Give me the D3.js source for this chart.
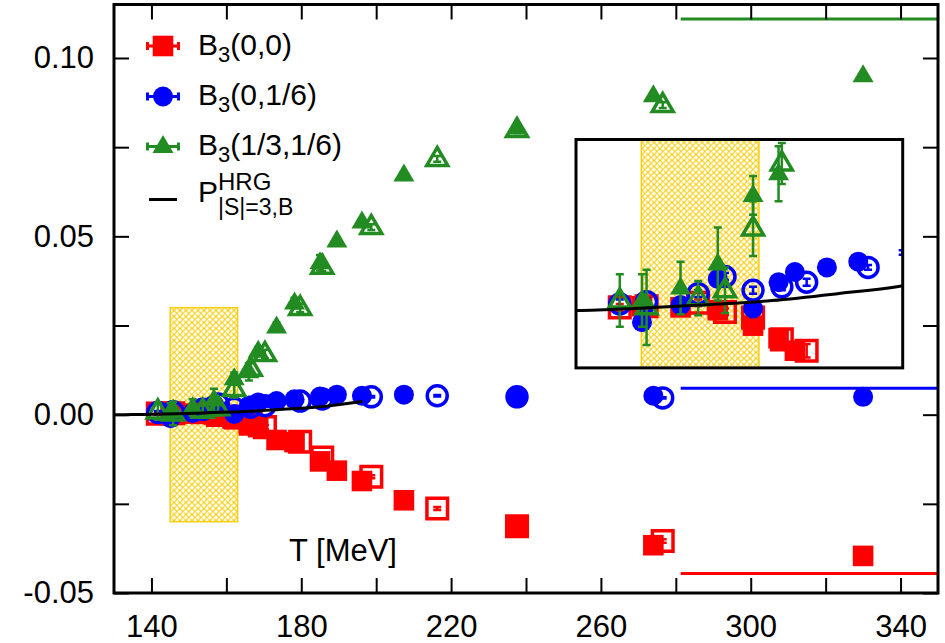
<!DOCTYPE html>
<html>
<head>
<meta charset="utf-8">
<script src="https://cdn.jsdelivr.net/npm/d3@7"></script>
<style>
  body { margin: 0; background: #fff; }
  svg { display: block; }
  text { font-family: "Liberation Sans", Arial, sans-serif; fill: #000; }
</style>
</head>
<body>
<div id="chart"></div>
<script>
// temperatures (MeV) of the filled and the open data sets
var T_filled = [145.1, 151.0, 156.7, 162.1, 166.0, 168.5, 173.4, 178.2, 185.0, 189.5, 196.2, 207.4, 237.6, 274.0, 330.0];
var T_open   = [141.7, 145.8, 153.7, 157.8, 162.1, 166.5, 170.3, 179.7, 185.6, 198.7, 216.3, 237.6, 276.5];

// B3(0,0)
var red_filled = [0.0004, 0.0003, 0.00005, -0.0013, -0.0024, -0.0035, -0.0071, -0.0077, -0.0131, -0.0157, -0.0186, -0.0240, -0.0315, -0.0366, -0.0396];
var red_open   = [0.0003, 0.0004, 0.0007, -0.0001, -0.0006, -0.0025, -0.0035, -0.0076, -0.0120, -0.0174, -0.0263, -0.0313, -0.0354];
var red_err_filled = [0.0003, 0.0002, 0.0002, 0.0003, 0.0003, 0.0003, 0.0003, 0.0003, 0.0004, 0.0004, 0.0004, 0.0004, 0.0005, 0.0005, 0.0005];
var red_err_open   = [0.0003, 0.0003, 0.0003, 0.0003, 0.0003, 0.0003, 0.0006, 0.0004, 0.0004, 0.0004, 0.0004, 0.0005, 0.0005];

// B3(0,1/6)
var blue_filled = [-0.0010, 0.0005, 0.0028, 0.0002, 0.0025, 0.0034, 0.0038, 0.0043, 0.0051, 0.0056, 0.0053, 0.0056, 0.0050, 0.0053, 0.0050];
var blue_open   = [0.0006, 0.0008, 0.0015, 0.0030, 0.0018, 0.0021, 0.0025, 0.0038, 0.0044, 0.0050, 0.0053, 0.0050, 0.0047];
var blue_err_filled = [0.0004, 0.0003, 0.0003, 0.0003, 0.0003, 0.0003, 0.0003, 0.0002, 0.0002, 0.0002, 0.0002, 0.0002, 0.0002, 0.0002, 0.0002];
var blue_err_open   = [0.0004, 0.0003, 0.0003, 0.0003, 0.0003, 0.0003, 0.0003, 0.0002, 0.0002, 0.0002, 0.0002, 0.0002, 0.0002];

// B3(1/3,1/6)
var green_filled = [0.0009, 0.0020, 0.0041, 0.0101, 0.0120, 0.0178, 0.0246, 0.0313, 0.0426, 0.0487, 0.0540, 0.0672, 0.0804, 0.0894, 0.0950];
var green_open   = [0.0009, 0.0003, 0.0011, 0.0018, 0.0072, 0.0129, 0.0170, 0.0299, 0.0415, 0.0526, 0.0717, 0.0798, 0.0868];
var green_err_filled = [0.0023, 0.0023, 0.0032, 0.0017, 0.0024, 0.0012, 0.0012, 0.0015, 0.0022, 0.0010, 0.0008, 0.0008, 0.0008, 0.0008, 0.0008];
var green_err_open   = [0.0023, 0.0033, 0.0015, 0.0020, 0.0024, 0.0018, 0.0012, 0.0012, 0.0012, 0.0008, 0.0008, 0.0008, 0.0008];

// HRG curve
var hrg_T   = [130, 135, 144, 154, 165, 175, 185, 196.3];
var hrg_val = [0.0, 0.00002, 0.0002, 0.0005, 0.0009, 0.0015, 0.0022, 0.0037];

// high temperature limits
var lim_T = [281.3, 350];
var lim_red = -0.0445, lim_blue = 0.0074, lim_green = 0.1109;

// transition band
var band_T = [145, 163];
var band_val = [-0.03, 0.03];

// ticks
var xTicks = [140, 160, 180, 200, 220, 240, 260, 280, 300, 320, 340];
var xLabels = [140, 180, 220, 260, 300, 340];
var yTicks = [-0.05, -0.025, 0, 0.025, 0.05, 0.075, 0.1];
var yLabels = [-0.05, 0, 0.05, 0.1];

// inset window
var inset_T = [135, 185];
var inset_val = [-0.005, 0.015];

var series = [
  {color: "#ff0000", shape: "square",   f: red_filled,   o: red_open,   ef: red_err_filled,   eo: red_err_open},
  {color: "#0000ff", shape: "circle",   f: blue_filled,  o: blue_open,  ef: blue_err_filled,  eo: blue_err_open},
  {color: "#228b22", shape: "triangle", f: green_filled, o: green_open, ef: green_err_filled, eo: green_err_open}
];

var margin = {top: 4.5, right: 7, bottom: 50, left: 114},
    width = 945 - margin.left - margin.right,
    height = 643 - margin.top - margin.bottom;

var root = d3.select("#chart").append("svg")
    .attr("width", 945)
    .attr("height", 643);

var defs = root.append("defs");
var pat = defs.append("pattern")
    .attr("id", "hatch")
    .attr("width", 6).attr("height", 6)
    .attr("patternUnits", "userSpaceOnUse");
pat.append("rect").attr("width", 6).attr("height", 6).attr("fill", "#fff");
pat.append("path").attr("d", "M0,0L6,6M6,0L0,6M-1,5L1,7M5,-1L7,1")
    .attr("stroke", "#f7cd10").attr("stroke-width", 1.2);

defs.append("clipPath").attr("id", "clipMain")
  .append("rect").attr("width", width).attr("height", height);

var svg = root.append("g")
    .attr("transform", "translate(" + margin.left + "," + margin.top + ")");

var x = d3.scaleLinear().domain([130, 350]).range([0, width]);
var y = d3.scaleLinear().domain([-0.05, 0.115]).range([height, 0]);

function markerPath(shape) {
  if (shape === "square") return "M-10.3,-10.3H10.3V10.3H-10.3Z";
  if (shape === "circle") return "M-10,0A10,10 0 1,0 10,0A10,10 0 1,0 -10,0Z";
  return "M0,-11.5L10.5,6.5L-10.5,6.5Z";
}

// draw all points of the three series into a panel with scales xs / ys
// (points at or past the x range edge keep their error bar but lose the symbol)
function drawData(g, xs, ys) {
  var dom = xs.domain();
  series.forEach(function(s) {
    [[T_filled, s.f, s.ef, false], [T_open, s.o, s.eo, true]].forEach(function(set) {
      var pts = set[0].map(function(t, i) { return {t: t, v: set[1][i], e: set[2][i]}; });
      g.selectAll(null).data(pts).enter().append("path")
        .attr("d", function(d) {
          var X = xs(d.t), y0 = ys(d.v - d.e), y1 = ys(d.v + d.e);
          return "M" + X + "," + y0 + "V" + y1 +
                 "M" + (X - 4) + "," + y0 + "H" + (X + 4) +
                 "M" + (X - 4) + "," + y1 + "H" + (X + 4);
        })
        .attr("stroke", s.color).attr("stroke-width", 2.5).attr("fill", "none");
      g.selectAll(null).data(pts.filter(function(d) { return d.t > dom[0] && d.t < dom[1]; }))
        .enter().append("path")
        .attr("transform", function(d) { return "translate(" + xs(d.t) + "," + ys(d.v) + ")"; })
        .attr("d", markerPath(s.shape))
        .attr("fill", set[3] ? "none" : s.color)
        .attr("stroke", set[3] ? s.color : "none")
        .attr("stroke-width", 3.5);
    });
  });
}

function hrgLine(xs, ys) {
  return d3.line()
    .x(function(d) { return xs(d[0]); })
    .y(function(d) { return ys(d[1]); })
    .curve(d3.curveMonotoneX)(hrg_T.map(function(t, i) { return [t, hrg_val[i]]; }));
}

// main panel
var main = svg.append("g").attr("clip-path", "url(#clipMain)");

main.append("rect")
    .attr("x", x(band_T[0])).attr("width", x(band_T[1]) - x(band_T[0]))
    .attr("y", y(band_val[1])).attr("height", y(band_val[0]) - y(band_val[1]))
    .attr("fill", "url(#hatch)")
    .attr("stroke", "#f7cd10").attr("stroke-width", 1.5);

drawData(main, x, y);

main.append("path").attr("d", hrgLine(x, y))
    .attr("fill", "none").attr("stroke", "#000").attr("stroke-width", 3);

[[lim_red, "#ff0000"], [lim_blue, "#0000ff"], [lim_green, "#228b22"]].forEach(function(l) {
  main.append("line")
    .attr("x1", x(lim_T[0])).attr("x2", x(lim_T[1]))
    .attr("y1", y(l[0])).attr("y2", y(l[0]))
    .attr("stroke", l[1]).attr("stroke-width", 3);
});

// inset
var insetBox = {x: 462, y: 135, w: 326.7, h: 228.4};
var xi = d3.scaleLinear().domain(inset_T).range([insetBox.x, insetBox.x + insetBox.w]);
var yi = d3.scaleLinear().domain(inset_val).range([insetBox.y + insetBox.h, insetBox.y]);

var inset = svg.append("g");
inset.append("clipPath").attr("id", "clipInset")
  .append("rect").attr("x", insetBox.x).attr("y", insetBox.y)
  .attr("width", insetBox.w).attr("height", insetBox.h);
inset.append("rect")
    .attr("x", insetBox.x).attr("y", insetBox.y)
    .attr("width", insetBox.w).attr("height", insetBox.h)
    .attr("fill", "#fff");
var insetData = inset.append("g").attr("clip-path", "url(#clipInset)");

insetData.append("rect")
    .attr("x", xi(band_T[0])).attr("width", xi(band_T[1]) - xi(band_T[0]))
    .attr("y", insetBox.y).attr("height", insetBox.h)
    .attr("fill", "url(#hatch)")
    .attr("stroke", "#f7cd10").attr("stroke-width", 1.5);
drawData(insetData, xi, yi);
insetData.append("path").attr("d", hrgLine(xi, yi))
    .attr("fill", "none").attr("stroke", "#000").attr("stroke-width", 3);
inset.append("rect")
    .attr("x", insetBox.x).attr("y", insetBox.y)
    .attr("width", insetBox.w).attr("height", insetBox.h)
    .attr("fill", "none").attr("stroke", "#000").attr("stroke-width", 3);

// axes (ticks point inwards on all four sides)
function yFmt(d) {
  for (var i = 0; i < yLabels.length; i++) {
    if (Math.abs(yLabels[i] - d) < 1e-9) return (d < -1e-9 ? "-" : "") + Math.abs(d).toFixed(2);
  }
  return "";
}
var axB = svg.append("g").attr("transform", "translate(0," + height + ")")
    .call(d3.axisBottom(x).tickValues(xTicks).tickSize(-15).tickPadding(22)
      .tickFormat(function(d) { return xLabels.indexOf(d) >= 0 ? d : ""; }));
var axT = svg.append("g")
    .call(d3.axisTop(x).tickValues(xTicks).tickSize(-15).tickFormat(""));
var axL = svg.append("g")
    .call(d3.axisLeft(y).tickValues(yTicks).tickSize(-15).tickPadding(20).tickFormat(yFmt));
var axR = svg.append("g").attr("transform", "translate(" + width + ",0)")
    .call(d3.axisRight(y).tickValues(yTicks).tickSize(-15).tickFormat(""));

[axB, axT, axL, axR].forEach(function(a) {
  a.select(".domain").remove();
  a.selectAll(".tick line").attr("stroke", "#000").attr("stroke-width", 2);
  a.selectAll(".tick text").style("font-size", "31px").attr("fill", "#000");
});

svg.append("rect")
    .attr("width", width).attr("height", height)
    .attr("fill", "none").attr("stroke", "#000").attr("stroke-width", 3);

// x label inside the plot
root.append("text")
    .attr("x", 397).attr("y", 561)
    .attr("text-anchor", "end")
    .style("font-size", "31px")
    .text("T [MeV]");

// legend
var legendRows = [
  {cy: 46,    base: 55,  color: "#ff0000", shape: "square",   arg: "(0,0)"},
  {cy: 96.5,  base: 105, color: "#0000ff", shape: "circle",   arg: "(0,1/6)"},
  {cy: 146.5, base: 155, color: "#228b22", shape: "triangle", arg: "(1/3,1/6)"}
];
var legend = root.append("g");
legendRows.forEach(function(r) {
  legend.append("path")
    .attr("d", "M147.5," + r.cy + "H178.5M147.5," + (r.cy - 4) + "V" + (r.cy + 4) +
               "M178.5," + (r.cy - 4) + "V" + (r.cy + 4))
    .attr("stroke", r.color).attr("stroke-width", 3).attr("fill", "none");
  legend.append("path")
    .attr("transform", "translate(163," + r.cy + ")")
    .attr("d", markerPath(r.shape))
    .attr("fill", r.color);
  var t = legend.append("text").attr("x", 198).attr("y", r.base).style("font-size", "30px");
  t.append("tspan").text("B");
  t.append("tspan").attr("dy", 7).style("font-size", "22px").text("3");
  t.append("tspan").attr("dy", -7).text(r.arg);
});
legend.append("line")
    .attr("x1", 149).attr("x2", 177).attr("y1", 199.5).attr("y2", 199.5)
    .attr("stroke", "#000").attr("stroke-width", 3);
legend.append("text").attr("x", 198).attr("y", 202).style("font-size", "30px").text("P");
legend.append("text").attr("x", 218).attr("y", 190).style("font-size", "24px").text("HRG");
legend.append("text").attr("x", 218).attr("y", 215).style("font-size", "23px").text("|S|=3,B");
</script>
</body>
</html>
